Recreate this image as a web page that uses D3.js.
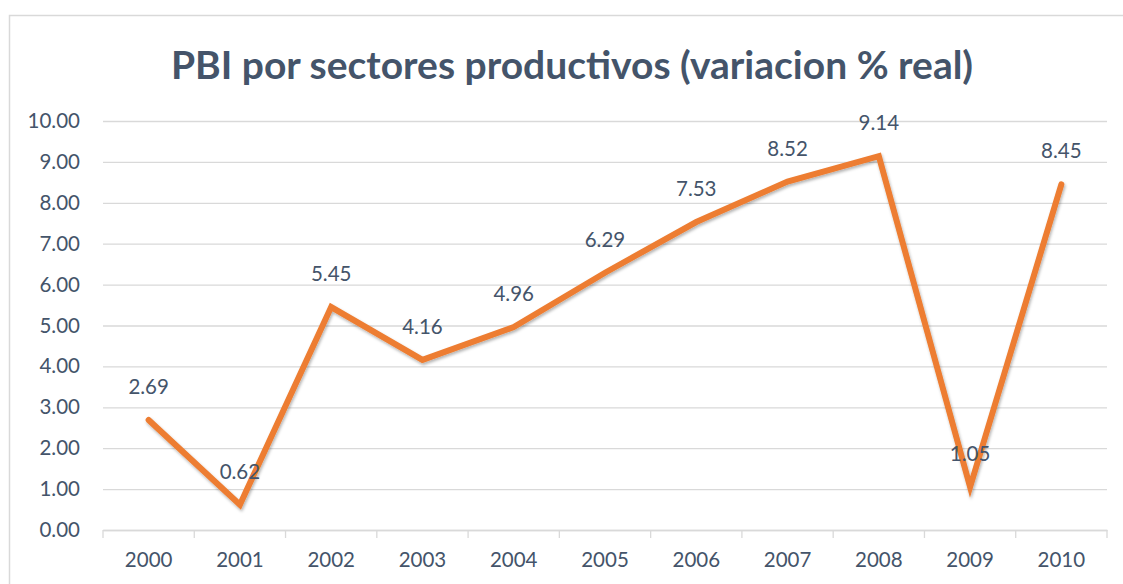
<!DOCTYPE html>
<html><head><meta charset="utf-8">
<script src="https://cdn.jsdelivr.net/npm/d3@7"></script>
<style>
html,body{margin:0;padding:0;background:#fff;}
svg{display:block;}
</style></head>
<body>
<svg id="chart" width="1123" height="584"></svg>
<script>
const years = ["2000","2001","2002","2003","2004","2005","2006","2007","2008","2009","2010"];
const values = [2.69,0.62,5.45,4.16,4.96,6.29,7.53,8.52,9.14,1.05,8.45];
const yTicks = [0,1,2,3,4,5,6,7,8,9,10];
const title = "PBI por sectores productivos (variacion % real)";

const svg = d3.select("#chart");
const W = 1123, H = 584;
const m = {left:103, right:1107, top:121, bottom:530};
const font = "Lato, 'Open Sans', sans-serif";
const textColor = "#44546A";
const fs = "20.5px";

// border
svg.append("rect").attr("x",9.5).attr("y",15.5).attr("width",W+10).attr("height",H+10)
  .attr("fill","none").attr("stroke","#D9D9D9").attr("stroke-width",1.5);

const x = d3.scaleBand().domain(years).range([m.left,m.right]).padding(0);
const y = d3.scaleLinear().domain([0,10]).range([m.bottom,m.top]);

// gridlines
const grid = svg.append("g").attr("transform",`translate(${m.left},0)`)
  .call(d3.axisLeft(y).tickValues(yTicks).tickSize(-(m.right-m.left)).tickFormat(""));
grid.select(".domain").remove();
grid.selectAll("line").attr("stroke","#D9D9D9").attr("stroke-width",1.3);

// y labels
const ya = svg.append("g").attr("transform",`translate(${m.left},0)`)
  .call(d3.axisLeft(y).tickValues(yTicks).tickSize(0).tickPadding(23).tickFormat(d3.format(".2f")));
ya.select(".domain").remove();
ya.selectAll("text").attr("fill",textColor).style("font-family",font).style("font-size",fs);

// x axis
const xa = svg.append("g").attr("transform",`translate(0,${m.bottom})`)
  .call(d3.axisBottom(x).tickSize(0).tickPadding(22));
xa.select(".domain").attr("stroke","#D9D9D9").attr("stroke-width",1.3);
xa.selectAll("text").attr("fill",textColor).style("font-family",font).style("font-size",fs);
// tick separators at band edges
const edges = years.map(d=>x(d)).concat([m.right]);
svg.append("g").selectAll("line").data(edges).join("line")
  .attr("x1",d=>d).attr("x2",d=>d).attr("y1",m.bottom).attr("y2",m.bottom+8)
  .attr("stroke","#D9D9D9").attr("stroke-width",1.3);

// shadow filter
const defs = svg.append("defs");
const f = defs.append("filter").attr("id","sh").attr("x","-10%").attr("y","-10%").attr("width","120%").attr("height","120%");
f.append("feDropShadow").attr("dx",1).attr("dy",2).attr("stdDeviation",1.5).attr("flood-color","#000").attr("flood-opacity",0.3);

const line = d3.line().x((d,i)=>x(years[i])+x.bandwidth()/2).y(d=>y(d));
svg.append("path").datum(values).attr("d",line).attr("fill","none")
  .attr("stroke","#ED7D31").attr("stroke-width",6).attr("stroke-linejoin","miter").attr("stroke-linecap","round")
  .attr("filter","url(#sh)");

// data labels
svg.append("g").selectAll("text").data(values).join("text")
  .attr("x",(d,i)=>x(years[i])+x.bandwidth()/2)
  .attr("y",d=>y(d)-26)
  .attr("text-anchor","middle")
  .attr("fill",textColor).style("font-family",font).style("font-size",fs)
  .text(d=>d3.format(".2f")(d));

// title
svg.append("text").attr("x",572).attr("y",79).attr("text-anchor","middle")
  .attr("fill",textColor).style("font-family",font).style("font-size","39px").style("font-weight","bold")
  .text(title);
</script>
</body></html>
